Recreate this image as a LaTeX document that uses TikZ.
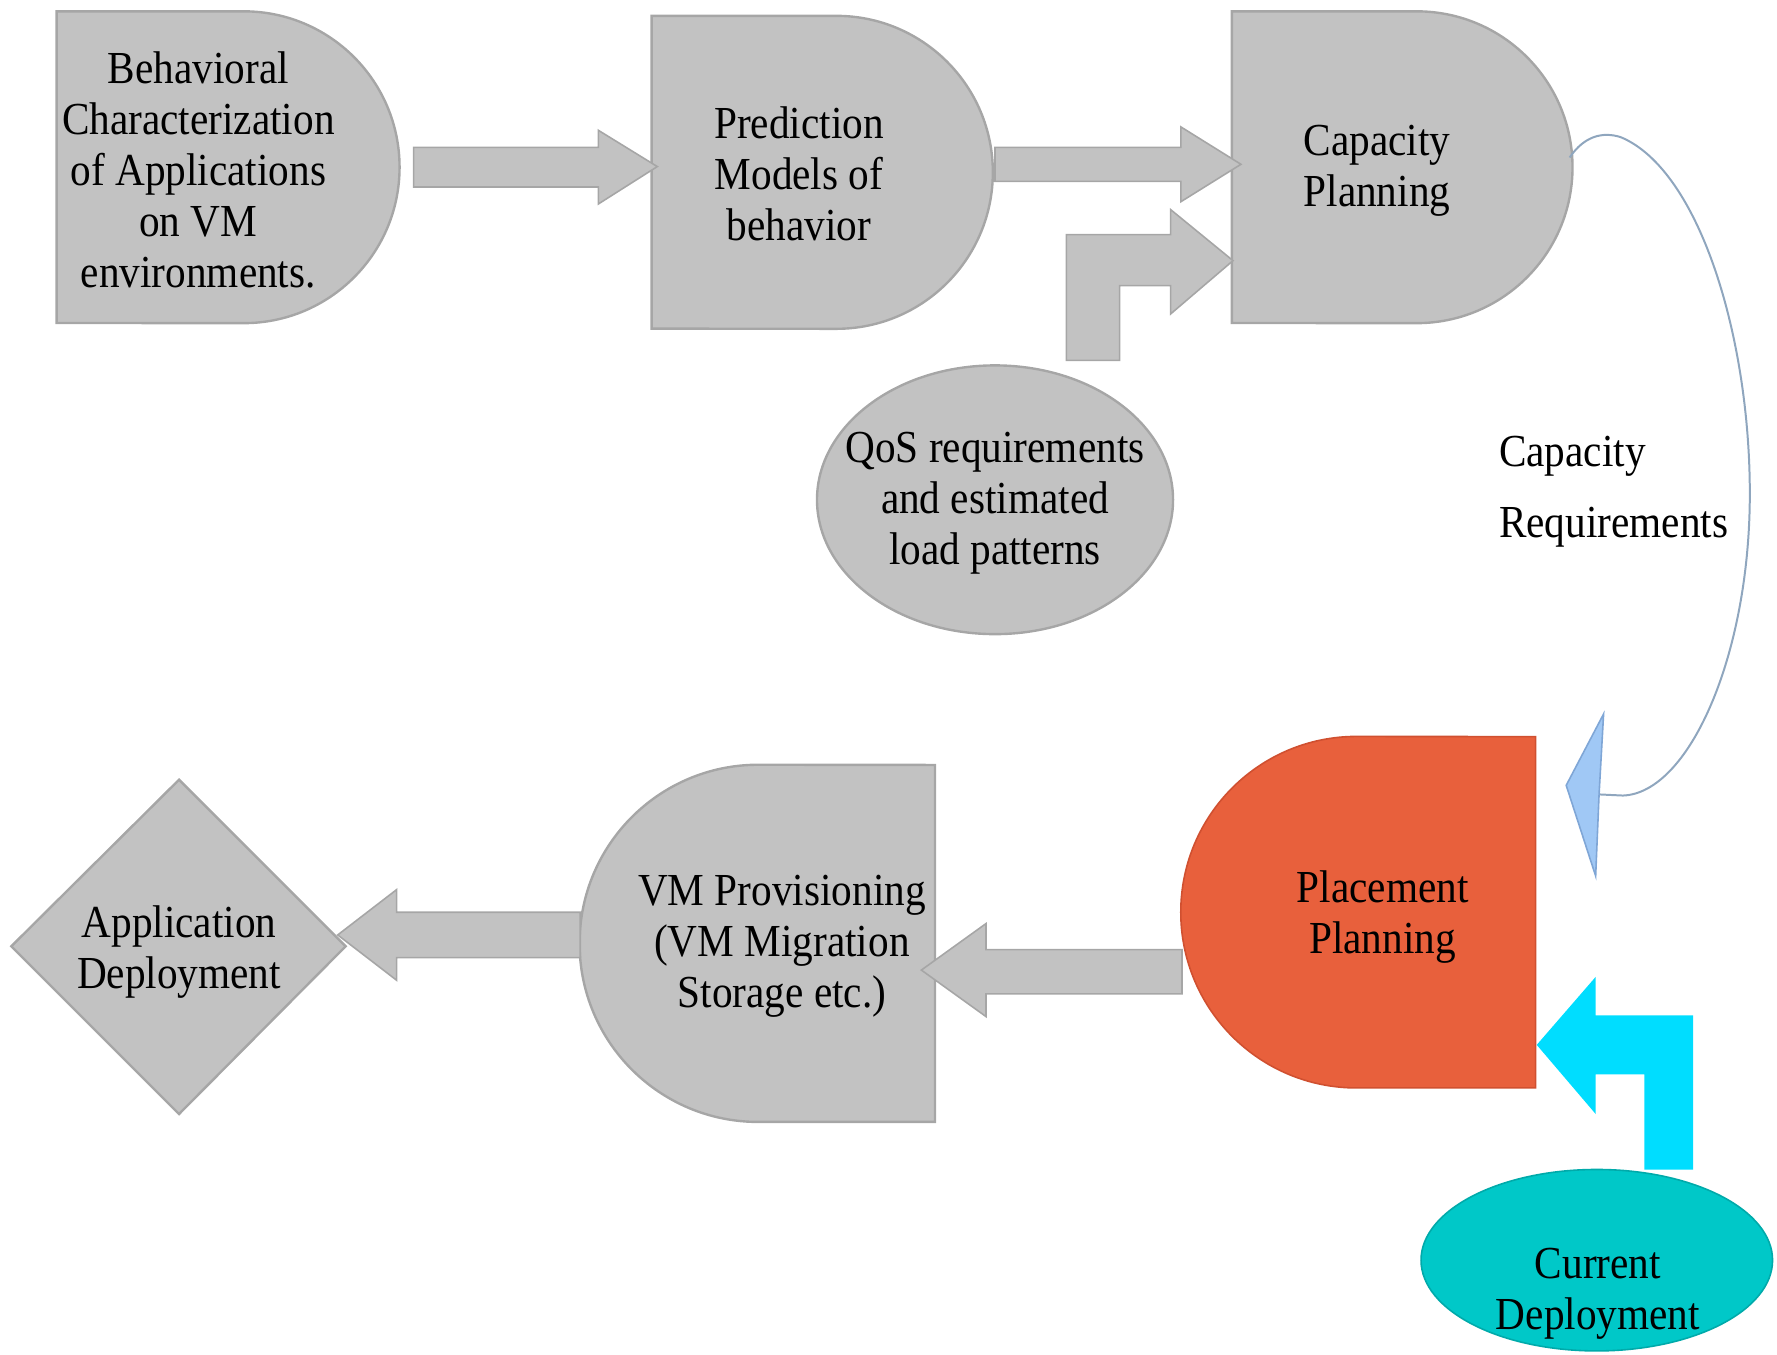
\documentclass[tikz,border=0pt]{standalone}
\usepackage{fontspec}
\setmainfont{Liberation Serif}[FakeStretch=0.9]
\usetikzlibrary{shapes.geometric}
\definecolor{boxgray}{HTML}{C2C2C2}
\definecolor{edgegray}{HTML}{A6A6A6}
\definecolor{plcorange}{HTML}{E8603C}
\definecolor{plcedge}{HTML}{D05030}
\definecolor{arrcyan}{HTML}{00DDFF}
\definecolor{curteal}{HTML}{00C8C8}
\definecolor{curedge}{HTML}{00AAAA}
\definecolor{kiteblue}{HTML}{A0C8F5}
\definecolor{kiteedge}{HTML}{7FA6D6}
\definecolor{curvecol}{HTML}{8FA6BE}
\tikzset{
  graybox/.style={fill=boxgray, draw=edgegray, line width=0.6pt},
  blockarrow/.style={fill=boxgray, draw=edgegray, line width=0.4pt},
  lbl/.style={align=center, inner sep=0pt, font=\fontsize{11.5}{12.8}\selectfont},
}
\begin{document}
\begin{tikzpicture}[x=0.01cm, y=-0.01cm]
\useasboundingbox (0,0) rectangle (1568,1195);

% ---- shapes ----
% Behavioral characterization (D shape)
\draw[graybox] (50,10) -- (215,10) arc[start angle=90, end angle=-90, radius=1.375cm] -- (50,285) -- cycle;
% Prediction models
\draw[graybox] (575,14) -- (738,14) arc[start angle=90, end angle=-90, radius=1.38cm] -- (575,290) -- cycle;
% Capacity planning
\draw[graybox] (1087,10) -- (1250,10) arc[start angle=90, end angle=-90, radius=1.375cm] -- (1087,285) -- cycle;
% Placement planning (reverse D)
\draw[fill=plcorange, draw=plcedge, line width=0.4pt] (1355,650) -- (1355,960) -- (1197,960) arc[start angle=-90, end angle=-270, radius=1.55cm] -- cycle;
% VM provisioning (reverse D)
\draw[graybox] (825,675) -- (825,990) -- (669,990) arc[start angle=-90, end angle=-270, radius=1.575cm] -- cycle;
% Application deployment diamond
\draw[graybox] (158,688) -- (305,835) -- (158,983) -- (10,835) -- cycle;

% ---- text nodes ----
\node[lbl] (beh) at (175,150) {Behavioral\\Characterization\\of Applications\\on VM\\environments.};
\node[lbl] (pred) at (705,153) {Prediction\\Models of\\behavior};
\node[lbl] (cap) at (1215,151) {Capacity\\Planning};
\node[ellipse, graybox, minimum width=3.14cm, minimum height=2.37cm, inner sep=0pt] (qosshape) at (878,441) {};
\node[lbl] (qos) at (878,444) {QoS requirements\\and estimated\\load patterns};
\node[lbl] (plc) at (1220,809) {Placement\\Planning};
\node[lbl] (vmp) at (690,835) {VM Provisioning\\(VM Migration\\Storage etc.)};
\node[lbl] (app) at (158,840) {Application\\Deployment};
\node[ellipse, fill=curteal, draw=curedge, line width=0.4pt, minimum width=3.10cm, minimum height=1.60cm, inner sep=0pt] (curshape) at (1409,1112) {};
\node[lbl] (cur) at (1410,1142) {Current\\Deployment};
\node[align=left, inner sep=0pt, anchor=west, font=\fontsize{11.5}{18}\selectfont] (creq) at (1322,434) {Capacity\\Requirements};

% ---- block arrows ----
\fill[blockarrow] (365,130) -- (528,130) -- (528,115) -- (580,147) -- (528,180) -- (528,165) -- (365,165) -- cycle;
\fill[blockarrow] (878,130) -- (1042,130) -- (1042,112) -- (1095,145) -- (1042,178) -- (1042,160) -- (878,160) -- cycle;
\fill[blockarrow] (941,318) -- (941,207) -- (1033,207) -- (1033,185) -- (1088,230) -- (1033,277) -- (1033,252) -- (988,252) -- (988,318) -- cycle;
\fill[blockarrow] (1043,838) -- (870,838) -- (870,815) -- (813,856) -- (870,897) -- (870,877) -- (1043,877) -- cycle;
\fill[blockarrow] (512,805) -- (350,805) -- (350,785) -- (298,825) -- (350,865) -- (350,845) -- (512,845) -- cycle;
\fill[arrcyan] (1451,1032) -- (1451,948) -- (1408,948) -- (1408,983) -- (1356,922) -- (1408,862) -- (1408,896) -- (1494,896) -- (1494,1032) -- cycle;

% ---- capacity requirements connector ----
\coordinate (capR) at (1385,139);
\coordinate (kiteR) at (1411,701);
\draw[curvecol, line width=0.5pt] (capR) .. controls (1398,120) and (1414,116) .. (1430,121)
  .. controls (1500,150) and (1545,300) .. (1544,440)
  .. controls (1543,580) and (1490,700) .. (1432,702) -- (kiteR);
\draw[fill=kiteblue, draw=kiteedge, line width=0.4pt] (1415,630) -- (1382,693) -- (1408,773) -- (kiteR) -- cycle;
\end{tikzpicture}
\end{document}
